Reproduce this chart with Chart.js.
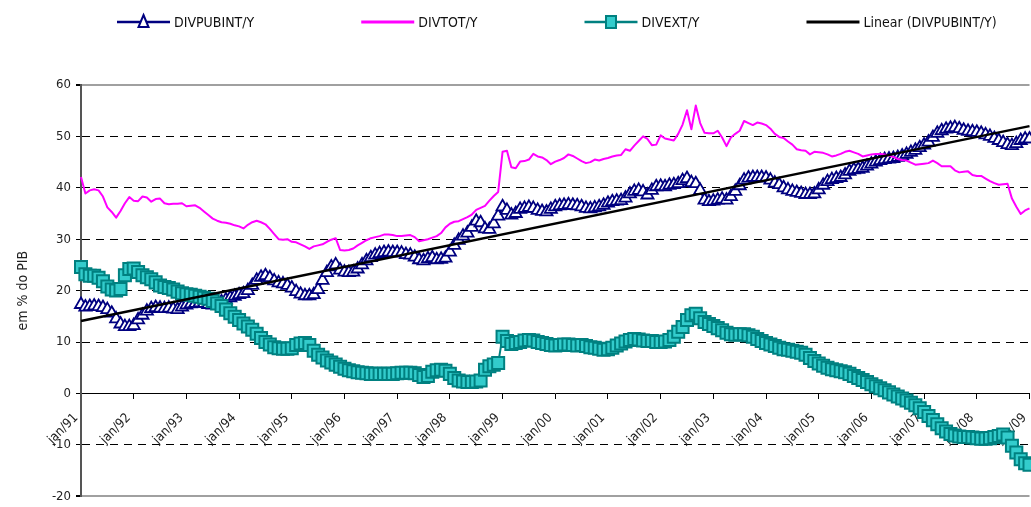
<!DOCTYPE html>
<html><head><meta charset="utf-8">
<script src="https://cdn.jsdelivr.net/npm/chart.js@4/dist/chart.umd.min.js"></script>
<style>
html,body{margin:0;padding:0;background:#fff;overflow:hidden;width:1031px;height:507px}
#wrap{position:absolute;left:0;top:0;width:1040px;height:509px}
</style>
</head><body><div id="wrap"><canvas id="c"></canvas></div>
<script>
const years = ['91','92','93','94','95','96','97','98','99','00','01','02','03','04','05','06','07','08','09'];
const monthNames = ['jan','fev','mar','abr','mai','jun','jul','ago','set','out','nov','dez'];
const tickLabels = ['jan/91','jan/92','jan/93','jan/94','jan/95','jan/96','jan/97','jan/98','jan/99','jan/00','jan/01','jan/02','jan/03','jan/04','jan/05','jan/06','jan/07','jan/08','jan/09'];

const divpubint = [
17.3,16.8,16.9,17.0,16.9,16.7,16.3,15.6,14.5,13.5,13.0,13.0,
13.2,14.3,15.2,16.0,16.5,16.7,16.6,16.5,16.6,16.4,16.3,16.8,
17.2,17.4,17.5,17.6,17.5,17.3,17.2,17.4,17.8,18.2,18.6,18.9,
19.2,19.4,20.0,21.0,22.0,22.6,22.9,22.5,21.9,21.5,21.3,21.0,
20.5,19.8,19.3,19.0,19.0,19.2,20.2,22.0,23.5,24.6,25.0,24.0,
23.6,23.5,23.6,24.2,25.0,25.8,26.4,26.9,27.2,27.4,27.5,27.4,
27.4,27.3,27.0,26.9,26.5,26.0,25.8,26.2,26.4,26.0,26.1,26.3,
27.5,28.8,29.8,30.6,31.2,32.3,33.5,33.2,32.0,31.9,33.0,34.5,
36.3,35.6,34.7,35.0,35.8,36.0,36.2,36.0,35.6,35.4,35.3,35.8,
36.3,36.5,36.6,36.7,36.6,36.5,36.3,36.0,35.9,36.1,36.3,36.6,
37.0,37.3,37.4,37.5,38.0,38.8,39.3,39.5,39.2,38.6,39.5,40.2,
40.3,40.2,40.5,40.6,40.8,41.4,41.8,41.0,40.8,39.5,37.6,37.3,
37.4,37.6,37.8,37.6,38.3,39.3,40.4,41.5,41.9,42.0,42.0,42.0,
41.9,41.5,40.9,40.6,40.0,39.6,39.3,39.1,38.9,38.7,38.7,38.8,
39.6,40.5,41.2,41.6,41.8,42.0,42.5,43.2,43.5,43.6,43.8,44.2,
44.6,45.0,45.3,45.5,45.6,45.7,45.9,46.2,46.5,46.9,47.3,47.8,
48.3,48.9,49.8,50.6,51.1,51.4,51.6,51.7,51.5,51.2,51.0,50.9,
50.8,50.6,50.3,50.0,49.6,49.2,48.8,48.4,48.2,48.6,49.2,49.5,
49.5];

const divtot = [
42.1,38.9,39.5,39.7,39.5,38.3,36.2,35.3,34.2,35.5,37.0,38.2,
37.5,37.4,38.3,38.1,37.3,37.8,37.9,37.0,36.8,36.9,36.9,37.0,
36.4,36.5,36.6,36.1,35.4,34.7,34.0,33.6,33.3,33.2,33.0,32.7,
32.5,32.1,32.8,33.3,33.6,33.3,32.9,32.0,31.0,30.0,29.9,30.0,
29.5,29.4,29.0,28.6,28.1,28.6,28.8,29.0,29.5,29.9,30.2,27.9,
27.8,27.9,28.2,28.8,29.3,29.8,30.2,30.4,30.6,30.9,30.9,30.8,
30.6,30.6,30.7,30.8,30.4,29.6,29.8,30.0,30.3,30.6,31.2,32.3,
33.0,33.4,33.5,33.9,34.3,34.8,35.7,36.1,36.5,37.5,38.4,39.2,
47.0,47.2,44.0,43.8,45.1,45.2,45.5,46.6,46.1,45.9,45.4,44.6,
45.1,45.4,45.8,46.5,46.2,45.7,45.2,44.8,45.0,45.5,45.3,45.6,
45.8,46.1,46.3,46.4,47.5,47.2,48.2,49.1,50.0,49.5,48.3,48.4,
50.2,49.6,49.4,49.2,50.5,52.3,55.1,51.4,56.0,52.6,50.7,50.6,
50.6,51.1,49.8,48.1,49.8,50.5,51.1,53.0,52.6,52.2,52.7,52.5,
52.2,51.5,50.5,49.9,49.7,49.0,48.4,47.5,47.3,47.2,46.5,47.0,
46.9,46.8,46.5,46.1,46.3,46.6,47.0,47.2,46.9,46.6,46.1,46.3,
46.5,46.6,46.6,46.5,46.3,46.0,45.6,45.4,45.3,44.9,44.5,44.6,
44.7,44.8,45.3,44.8,44.2,44.2,44.2,43.4,43.0,43.1,43.2,42.5,
42.3,42.3,41.8,41.3,40.9,40.6,40.7,40.8,37.9,36.3,34.9,35.6,
36.0];

const divext = [
24.6,23.2,22.9,22.9,22.5,21.8,20.8,20.2,20.0,20.3,23.0,24.2,
24.3,23.6,23.0,22.6,22.2,21.6,21.0,20.7,20.5,20.2,19.8,19.5,
19.3,19.2,19.0,18.8,18.6,18.4,18.0,17.5,17.0,16.3,15.6,14.9,
14.3,13.6,13.0,12.4,11.6,10.8,10.0,9.5,9.0,8.8,8.7,8.7,
8.8,9.4,9.7,9.8,9.4,8.3,7.5,7.0,6.4,6.0,5.6,5.2,
4.8,4.5,4.3,4.1,4.0,3.9,3.8,3.8,3.8,3.8,3.8,3.8,
3.9,4.0,4.0,4.0,3.9,3.6,3.2,3.4,4.2,4.5,4.6,4.4,
3.8,3.0,2.5,2.3,2.2,2.2,2.3,2.5,4.6,5.3,5.6,5.9,
11.0,10.2,9.6,9.8,10.0,10.3,10.4,10.3,10.0,9.8,9.6,9.4,
9.3,9.4,9.5,9.5,9.4,9.3,9.4,9.2,9.0,8.9,8.7,8.5,
8.6,8.9,9.3,9.7,10.1,10.4,10.6,10.5,10.3,10.2,10.2,10.0,
10.0,10.1,10.4,11.0,12.0,12.9,14.3,15.2,15.5,14.6,13.9,13.5,
13.1,12.7,12.3,11.8,11.5,11.4,11.5,11.5,11.3,11.0,10.6,10.2,
9.8,9.5,9.2,8.9,8.6,8.5,8.3,8.1,7.9,7.5,6.9,6.3,
5.8,5.4,5.0,4.7,4.5,4.3,4.1,3.8,3.4,3.0,2.6,2.2,
1.8,1.4,1.0,0.6,0.2,-0.2,-0.6,-1.0,-1.4,-1.8,-2.3,-2.9,
-3.6,-4.4,-5.2,-6.0,-6.8,-7.4,-7.9,-8.2,-8.4,-8.5,-8.5,-8.6,
-8.7,-8.8,-8.8,-8.7,-8.5,-8.3,-8.0,-8.6,-10.2,-11.5,-12.8,-13.6,
-13.9];

// Linear trendline endpoints
const trendStart = 14.1;
const trendEnd = 52.0;

const categories = [];
years.forEach(y => monthNames.forEach(m => { if (categories.length < divtot.length) categories.push(m + '/' + y); }));
const trend = categories.map((_, i) => i === 0 ? trendStart : (i === categories.length - 1 ? trendEnd : null));

const FONT = '"Liberation Sans Narrow", "DejaVu Sans Condensed", "Arial Narrow", sans-serif';
Chart.defaults.font.family = FONT;
Chart.defaults.color = '#222';

const legendPlugin = {
  id: 'customLegend',
  afterDraw(chart) {
    const ctx = chart.ctx;
    ctx.save();
    ctx.font = '14px ' + FONT;
    ctx.textBaseline = 'middle';
    let x = 117; const y = 22;
    chart.data.datasets.forEach(ds => {
      ctx.strokeStyle = ds.borderColor; ctx.lineWidth = ds.legendLineWidth;
      ctx.beginPath(); ctx.moveTo(x, y); ctx.lineTo(x + 53, y); ctx.stroke();
      const cx = x + 26.5;
      if (ds.pointStyle === 'triangle') {
        ctx.beginPath(); ctx.moveTo(cx, y - 7); ctx.lineTo(cx + 5, y + 5); ctx.lineTo(cx - 5, y + 5); ctx.closePath();
        ctx.fillStyle = '#fff'; ctx.fill(); ctx.lineWidth = 2; ctx.strokeStyle = ds.borderColor; ctx.stroke();
      } else if (ds.pointStyle === 'rect') {
        ctx.fillStyle = ds.pointBackgroundColor; ctx.fillRect(cx - 5, y - 6, 10, 12);
        ctx.lineWidth = 2; ctx.strokeStyle = ds.borderColor; ctx.strokeRect(cx - 5, y - 6, 10, 12);
      }
      ctx.fillStyle = '#111';
      ctx.fillText(ds.label, x + 57, y + 1);
      x += 57 + ctx.measureText(ds.label).width + 107;
    });
    ctx.restore();
  }
};

const isEdge = v => v === 60 || v === -20;

new Chart(document.getElementById('c'), {
  type: 'line',
  data: {
    labels: categories,
    datasets: [
      { label: 'DIVPUBINT/Y', data: divpubint, order: 3, borderColor: '#000080', borderWidth: 2,
        pointStyle: 'triangle', pointRadius: 7, pointBorderWidth: 1.8, pointBackgroundColor: '#ffffff',
        pointBorderColor: '#000080', legendLineWidth: 2.5, tension: 0 },
      { label: 'DIVTOT/Y', data: divtot, order: 2, borderColor: '#FF00FF', borderWidth: 2,
        pointRadius: 0, legendLineWidth: 3, tension: 0 },
      { label: 'DIVEXT/Y', data: divext, order: 1, borderColor: '#008080', borderWidth: 2,
        pointStyle: 'rect', pointRadius: 8.5, pointBorderWidth: 2, pointBackgroundColor: '#33CCCC',
        pointBorderColor: '#008080', legendLineWidth: 2.5, tension: 0 },
      { label: 'Linear (DIVPUBINT/Y)', data: trend, order: 0, borderColor: '#000000', borderWidth: 2.5,
        pointRadius: 0, spanGaps: true, legendLineWidth: 3, tension: 0 }
    ]
  },
  options: {
    responsive: true, maintainAspectRatio: false, animation: false, devicePixelRatio: 1,
    layout: { padding: { top: 85, right: 6, bottom: 7, left: 0 } },
    plugins: { legend: { display: false }, tooltip: { enabled: false } },
    elements: { line: { borderJoinStyle: 'round' } },
    scales: {
      x: {
        type: 'category',
        position: { y: 0 },
        afterFit: s => { s.height = 0; s.paddingRight = 0; },
        border: { display: true, color: '#000', width: 1 },
        grid: { display: true, drawOnChartArea: false, drawTicks: true, tickLength: 5,
                tickColor: c => (c.index % 12 === 0) ? '#000' : 'rgba(0,0,0,0)', tickWidth: 1 },
        ticks: { autoSkip: false, maxRotation: 45, minRotation: 45, padding: 12, labelOffset: -5,
                 font: { size: 13 }, color: '#222',
                 callback: (v, i) => tickLabels.includes(categories[i]) ? categories[i] : '' }
      },
      y: {
        min: -20, max: 60,
        afterFit: s => { s.width = 81; },
        border: { display: true, color: '#555', width: 2,
                  dash: c => (c.type === 'tick' && c.tick && !isEdge(c.tick.value)) ? [8, 6] : [] },
        grid: { drawTicks: true, tickLength: 5, tickColor: '#000',
                color: c => isEdge(c.tick.value) ? '#a0a0a0' : (c.tick.value === 0 ? 'rgba(0,0,0,0)' : '#000'),
                lineWidth: c => isEdge(c.tick.value) ? 2 : 1 },
        ticks: { stepSize: 10, padding: 5, font: { size: 13 }, color: '#222' },
        title: { display: true, text: 'em % do PIB', font: { size: 14 }, color: '#222', padding: { top: 15, bottom: 0 } }
      }
    }
  },
  plugins: [legendPlugin]
});
</script>
</body></html>
